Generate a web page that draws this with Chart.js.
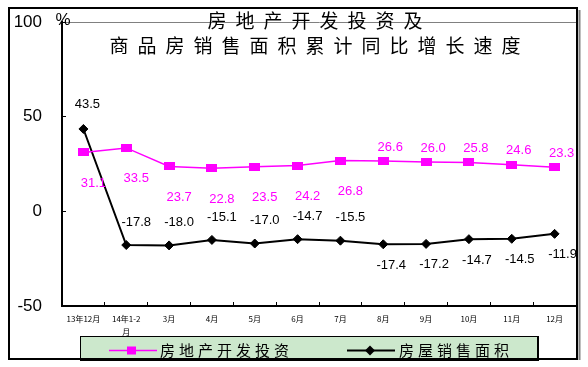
<!DOCTYPE html>
<html><head><meta charset="utf-8">
<script src="https://cdn.jsdelivr.net/npm/chart.js@4/dist/chart.umd.min.js"></script>
<style>html,body{margin:0;padding:0;background:#fff;}#wrap{width:588px;height:367px;position:relative;}</style>
</head><body><div id="wrap"><canvas id="c" width="588" height="367"></canvas></div>
<script>
// ---- data ----
const categories = ['13年12月', ['14年1-2', '月'], '3月', '4月', '5月', '6月', '7月', '8月', '9月', '10月', '11月', '12月'];
const investment = [31.1, 33.5, 23.7, 22.8, 23.5, 24.2, 26.8, 26.6, 26.0, 25.8, 24.6, 23.3];
const salesArea = [43.5, -17.8, -18.0, -15.1, -17.0, -14.7, -15.5, -17.4, -17.2, -14.7, -14.5, -11.9];
const yTicks = [-50, 0, 50, 100];
const seriesNames = ['房地产开发投资', '房屋销售面积'];
const titleLines = ['房地产开发投资及', '商品房销售面积累计同比增长速度'];
const unitLabel = '%';

// ---- styles ----
const MAGENTA = '#ff00ff';
const CJK = '"Noto Sans CJK SC", "Noto Sans", sans-serif';
const ARIAL = '"Liberation Sans", Arial, sans-serif';

function rectMarker(w, h, color) {
  const c = document.createElement('canvas');
  c.width = w; c.height = h;
  const g = c.getContext('2d');
  g.fillStyle = color; g.fillRect(0, 0, w, h);
  return c;
}
const magentaRect = rectMarker(11, 8, MAGENTA);

const decor = {
  id: 'decor',
  beforeDraw(chart) {
    const ctx = chart.ctx;
    ctx.save();
    ctx.fillStyle = '#fff';
    ctx.fillRect(0, 0, chart.width, chart.height);
    ctx.restore();
  },
  afterDraw(chart) {
    const ctx = chart.ctx;
    ctx.save();
    // data labels
    ctx.font = '13px ' + ARIAL;
    ctx.textAlign = 'center';
    ctx.textBaseline = 'middle';
    const m0 = chart.getDatasetMeta(0), m1 = chart.getDatasetMeta(1);
    m0.data.forEach((p, i) => {
      const below = i < 7;
      ctx.fillStyle = MAGENTA;
      ctx.fillText(investment[i].toFixed(1), p.x + (below ? 10 : 7), p.y + (below ? 31 : -14));
    });
    m1.data.forEach((p, i) => {
      const above = i < 7;
      ctx.fillStyle = '#000';
      let dx = above ? 10 : 8, dy = above ? -23 : 21;
      if (i === 0) { dx = 4; dy = -25; }
      ctx.fillText(salesArea[i].toFixed(1), p.x + dx, p.y + dy);
    });

    // unit
    ctx.font = '17px ' + ARIAL;
    ctx.fillStyle = '#000';
    ctx.textAlign = 'center';
    ctx.fillText(unitLabel, 63, 20);

    // title
    ctx.font = '19px ' + CJK;
    ctx.letterSpacing = '9px';
    ctx.textAlign = 'left';
    ctx.fillStyle = '#000';
    const tys = [21, 46];
    titleLines.forEach((t, k) => {
      const w = ctx.measureText(t).width - 9;
      ctx.fillText(t, 315 - w / 2, tys[k]);
    });

    // legend
    ctx.letterSpacing = '0px';
    const lx = 80, ly = 336, lw = 457, lh = 22;
    ctx.fillStyle = '#cce8cc';
    ctx.fillRect(lx, ly, lw, lh);
    ctx.strokeStyle = '#000';
    ctx.lineWidth = 1;
    ctx.strokeRect(lx + 0.5, ly + 0.5, lw, lh);
    ctx.lineWidth = 2;
    ctx.beginPath();
    ctx.moveTo(lx + lw + 1, ly); ctx.lineTo(lx + lw + 1, ly + lh + 2);
    ctx.lineTo(lx, ly + lh + 2);
    ctx.stroke();
    const cy = 350.5;
    ctx.strokeStyle = MAGENTA; ctx.lineWidth = 1.5;
    ctx.beginPath(); ctx.moveTo(109, cy); ctx.lineTo(157, cy); ctx.stroke();
    ctx.fillStyle = MAGENTA; ctx.fillRect(127, cy - 4, 9, 8);
    ctx.strokeStyle = '#000'; ctx.lineWidth = 2;
    ctx.beginPath(); ctx.moveTo(347, cy); ctx.lineTo(395, cy); ctx.stroke();
    ctx.fillStyle = '#000';
    ctx.beginPath(); ctx.moveTo(365, cy); ctx.lineTo(370, cy - 5); ctx.lineTo(375, cy); ctx.lineTo(370, cy + 5); ctx.closePath(); ctx.fill();
    ctx.font = '15px ' + CJK;
    ctx.letterSpacing = '4px';
    ctx.textAlign = 'left';
    ctx.textBaseline = 'middle';
    ctx.fillStyle = '#000';
    ctx.fillText(seriesNames[0], 160, cy);
    ctx.fillText(seriesNames[1], 399, cy);
    ctx.letterSpacing = '0px';

    // outer border
    ctx.strokeStyle = '#000';
    ctx.lineWidth = 2;
    ctx.strokeRect(9, 8, 568, 351);
    ctx.strokeStyle = '#808080';
    ctx.beginPath(); ctx.moveTo(579.5, 10); ctx.lineTo(579.5, 360); ctx.stroke();
    ctx.restore();
  }
};

new Chart(document.getElementById('c'), {
  type: 'line',
  data: {
    labels: categories,
    datasets: [
      {
        label: seriesNames[0], data: investment,
        borderColor: MAGENTA, backgroundColor: MAGENTA, borderWidth: 1.5,
        pointStyle: magentaRect, pointRadius: 5, tension: 0
      },
      {
        label: seriesNames[1], data: salesArea,
        borderColor: '#000', backgroundColor: '#000', borderWidth: 2,
        pointStyle: 'rectRot', pointRadius: 4.5, pointBorderWidth: 1, tension: 0
      }
    ]
  },
  options: {
    responsive: false, animation: false, devicePixelRatio: 1,
    layout: { padding: { left: 0, right: 12, top: 22, bottom: 31 } },
    plugins: { legend: { display: false }, title: { display: false }, tooltip: { enabled: false } },
    scales: {
      x: {
        offset: true,
        grid: { offset: true, drawOnChartArea: false, tickLength: -4, tickColor: '#000', tickWidth: 1 },
        border: { color: '#000', width: 2 },
        ticks: { font: { family: CJK, size: 8, lineHeight: 1.6 }, color: '#000', padding: 11, maxRotation: 0, autoSkip: false },
        afterFit(s) { s.height = 30; s.paddingLeft = 0; s.paddingRight = 0; }
      },
      y: {
        min: -50, max: 100,
        afterBuildTicks(s) { s.ticks = yTicks.map(v => ({ value: v })); },
        grid: {
          color: c => (c.tick && c.tick.value === 100 ? '#808080' : 'rgba(0,0,0,0)'),
          lineWidth: 1, tickLength: -4, tickColor: '#000'
        },
        border: { color: '#000', width: 2 },
        ticks: { font: { family: ARIAL, size: 17 }, color: '#000', padding: 24 },
        afterFit(s) { s.width = 62; s.paddingTop = 0; s.paddingBottom = 0; }
      }
    }
  },
  plugins: [decor]
});
</script>
</body></html>
